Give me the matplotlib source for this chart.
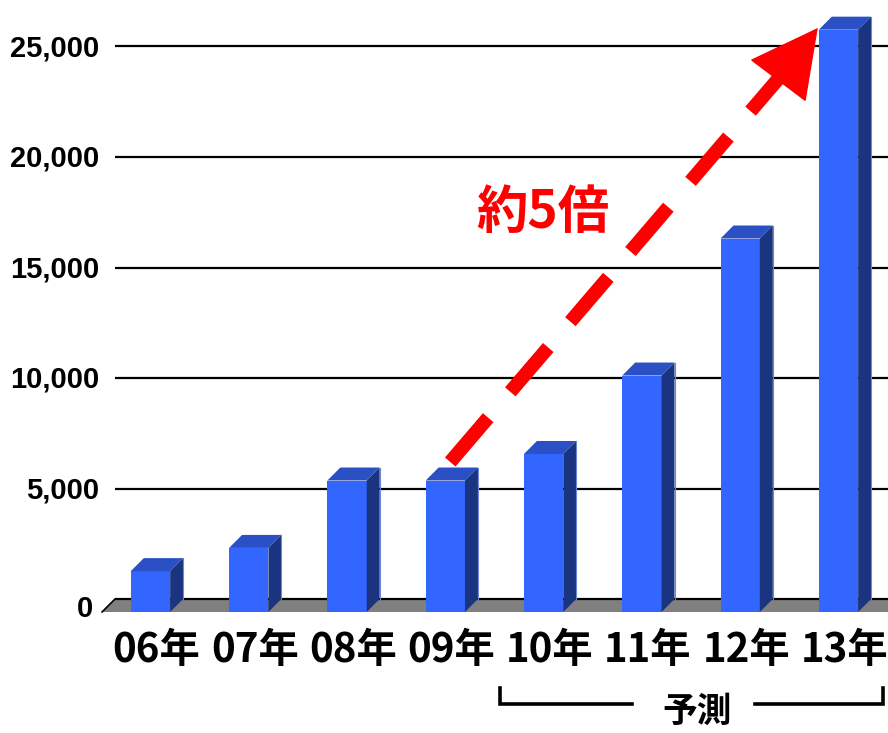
import matplotlib
matplotlib.use("Agg")
import matplotlib.pyplot as plt
from matplotlib.patches import Polygon
import numpy as np

# data
years = ["06年", "07年", "08年", "09年", "10年", "11年", "12年", "13年"]
values = [1850, 2900, 5950, 5950, 7150, 10700, 16900, 26350]
y_ticks = [0, 5000, 10000, 15000, 20000, 25000]
y_tick_labels = ["0", "5,000", "10,000", "15,000", "20,000", "25,000"]

# arrow from 09 towards the top of 13 (start, end of dashes, tip)
arrow_start = (3.05, 6200)
arrow_dash_end = (6.49, 24070)
arrow_tip = (6.79, 25840)
arrow_label = "約5倍"
forecast_label = "予測"

# 3d look
bar_w = 0.4
dx = 0.132      # depth in category units
dv = 588        # depth in value units
front_col = "#3366FF"
top_col = "#2B4FC4"
side_col = "#1B3480"

fig = plt.figure(figsize=(8.88, 7.33), dpi=100)
ax = fig.add_axes([0, 0, 1, 1])
ax.set_xlim(-1.531, 7.504)
ax.set_ylim(-6063, 27104)
ax.axis("off")

x = np.arange(len(years))
floor_left = -0.493
right = 7.504

# floor
ax.add_patch(Polygon([(floor_left, -dv), (right, -dv), (right + dx, 0), (floor_left + dx, 0)],
                     closed=True, facecolor="#808080", edgecolor="none", zorder=1))
ax.plot([floor_left, floor_left + dx], [-dv, 0], color="black", lw=1.2, zorder=2)

# gridlines on the back wall
ax.hlines(y_ticks, floor_left + dx, right, color="black", lw=1.6, zorder=2)

# bars: front face, top and side
ax.bar(x, values, width=bar_w, bottom=-dv, color=front_col, zorder=3)
for xi, v in zip(x, values):
    l = xi - bar_w / 2
    r = xi + bar_w / 2
    ax.add_patch(Polygon([(l, v - dv), (r, v - dv), (r + dx, v), (l + dx, v)],
                         closed=True, facecolor=top_col, edgecolor="none", zorder=3))
    ax.add_patch(Polygon([(r, -dv), (r + dx, 0), (r + dx, v), (r, v - dv)],
                         closed=True, facecolor=side_col, edgecolor="none", zorder=3))
    ax.plot([r + dx, r + dx], [0, v], color="#6f86d6", lw=0.8, zorder=3)

# y labels
for t, lab in zip(y_ticks, y_tick_labels):
    if t == 0:
        ax.text(-0.585, -430, lab, ha="right", va="center", fontsize=21,
                fontweight="bold", family="Liberation Sans")
    else:
        ax.text(-0.52, t - 80, lab, ha="right", va="center", fontsize=21,
                fontweight="bold", family="Liberation Sans")

# x labels
for xi, lab in zip(x, years):
    ax.text(xi + 0.06, -2350, lab, ha="center", va="center", fontsize=29,
            fontweight="bold", family=["Noto Sans CJK JP"])

# dashed arrow
ax.plot([arrow_start[0], arrow_dash_end[0]], [arrow_start[1], arrow_dash_end[1]],
        color="red", lw=10, linestyle=(0, (4.2, 2.45)), dash_capstyle="butt", zorder=4)
ax.annotate("", xy=arrow_tip, xytext=arrow_dash_end,
            arrowprops=dict(arrowstyle="-|>,head_length=4.6,head_width=2.4",
                            mutation_scale=10, color="red", lw=1,
                            shrinkA=0, shrinkB=0), zorder=4)
ax.text(3.99, 17470, arrow_label, ha="center", va="center", fontsize=37,
        fontweight="bold", color="red", family=["Noto Sans CJK JP"])

# forecast bracket under 10-13
br_y, br_top = -4750, -4030
ax.plot([3.557, 3.557, 4.899], [br_top, br_y, br_y], color="black", lw=2.6,
        solid_joinstyle="miter", clip_on=False)
ax.plot([6.149, 7.452, 7.452], [br_y, br_y, br_top], color="black", lw=2.6,
        solid_joinstyle="miter", clip_on=False)
ax.text(5.561, -5100, forecast_label, ha="center", va="center", fontsize=25,
        fontweight="bold", family=["Noto Sans CJK JP"])

fig.savefig("out.png", dpi=100)
